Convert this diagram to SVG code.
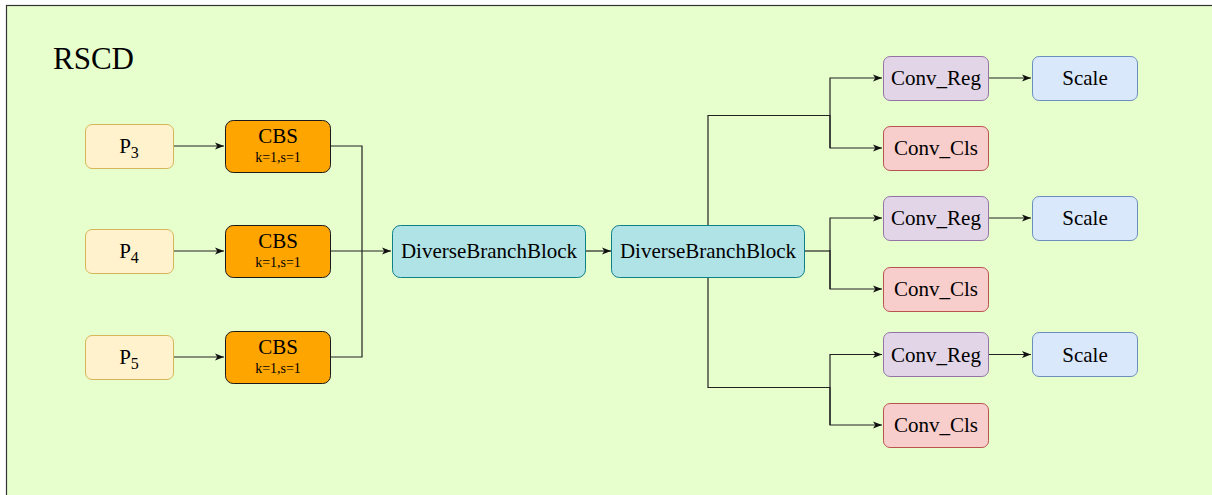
<svg xmlns="http://www.w3.org/2000/svg" width="1212" height="495" viewBox="0 0 1212 495">
<defs>
<style>
text{font-family:"Liberation Serif","Times New Roman",serif;fill:#000;text-anchor:middle}
.t{font-size:21px}
.s{font-size:14px}
.p{fill:#fff2cc;stroke:#d6b656;stroke-width:1}
.c{fill:#ffa500;stroke:#1a1a1a;stroke-width:1}
.d{fill:#b0e3e6;stroke:#0e8088;stroke-width:1}
.r{fill:#e1d5e7;stroke:#9673a6;stroke-width:1}
.k{fill:#f8cecc;stroke:#b85450;stroke-width:1}
.e{fill:#dae8fc;stroke:#6c8ebf;stroke-width:1}
.l{fill:none;stroke:#222;stroke-width:1.2}
</style>
<marker id="a" viewBox="0 0 10 10" refX="10" refY="5" markerWidth="9" markerHeight="9" markerUnits="userSpaceOnUse" orient="auto">
<path d="M0,1 L10,5 L0,9 L2.5,5 Z" fill="#111"/>
</marker>
</defs>
<rect x="6.5" y="5.5" width="1220" height="500" fill="#e6ffcc" stroke="#333" stroke-width="1.2"/>
<text x="93.5" y="69" style="font-size:31px">RSCD</text>
<g id="connectors">
<path class="l" d="M173,146 H224" marker-end="url(#a)"/>
<path class="l" d="M173,251 H224" marker-end="url(#a)"/>
<path class="l" d="M173,357 H224" marker-end="url(#a)"/>
<path class="l" d="M331,146 H362 V357 H331"/>
<path class="l" d="M331,251 H391" marker-end="url(#a)"/>
<path class="l" d="M585,251 H611" marker-end="url(#a)"/>
<path class="l" d="M708,225 V115.5 H830"/>
<path class="l" d="M830,148 V78 H882" marker-end="url(#a)"/>
<path class="l" d="M830,115 V148 H882" marker-end="url(#a)"/>
<path class="l" d="M804,251 H830"/>
<path class="l" d="M830,289 V218 H882" marker-end="url(#a)"/>
<path class="l" d="M830,250 V289 H882" marker-end="url(#a)"/>
<path class="l" d="M708,278 V387.5 H830"/>
<path class="l" d="M830,425 V354.5 H882" marker-end="url(#a)"/>
<path class="l" d="M830,387 V425 H882" marker-end="url(#a)"/>
<path class="l" d="M988,78 H1031" marker-end="url(#a)"/>
<path class="l" d="M988,218 H1031" marker-end="url(#a)"/>
<path class="l" d="M988,354.5 H1031" marker-end="url(#a)"/>
</g>
<g id="p3"><rect class="p" x="85.5" y="124.5" width="88" height="44" rx="6.6"/><text class="t" x="129" y="153">P<tspan style="font-size:16px" dy="5">3</tspan></text></g>
<g id="p4"><rect class="p" x="85.5" y="229.5" width="88" height="44" rx="6.6"/><text class="t" x="129" y="258">P<tspan style="font-size:16px" dy="5">4</tspan></text></g>
<g id="p5"><rect class="p" x="85.5" y="335.5" width="88" height="44" rx="6.6"/><text class="t" x="129" y="364">P<tspan style="font-size:16px" dy="5">5</tspan></text></g>
<g id="cbs1"><rect class="c" x="225.5" y="120.5" width="105" height="52" rx="7.8"/><text class="t" x="278" y="143">CBS</text><text class="s" x="278" y="162">k=1,s=1</text></g>
<g id="cbs2"><rect class="c" x="225.5" y="225.5" width="105" height="52" rx="7.8"/><text class="t" x="278" y="248">CBS</text><text class="s" x="278" y="267">k=1,s=1</text></g>
<g id="cbs3"><rect class="c" x="225.5" y="331.5" width="105" height="52" rx="7.8"/><text class="t" x="278" y="354">CBS</text><text class="s" x="278" y="373">k=1,s=1</text></g>
<g id="dbb1"><rect class="d" x="392.5" y="225.5" width="193" height="52" rx="7.8"/><text class="t" x="489" y="258">DiverseBranchBlock</text></g>
<g id="dbb2"><rect class="d" x="611.5" y="225.5" width="193" height="52" rx="7.8"/><text class="t" x="708" y="258">DiverseBranchBlock</text></g>
<g id="reg1"><rect class="r" x="883.5" y="56.5" width="105" height="44" rx="6.6"/><text class="t" x="936" y="85">Conv_Reg</text></g>
<g id="cls1"><rect class="k" x="883.5" y="126.5" width="105" height="44" rx="6.6"/><text class="t" x="936" y="155">Conv_Cls</text></g>
<g id="scale1"><rect class="e" x="1032.5" y="56.5" width="105" height="44" rx="6.6"/><text class="t" x="1085" y="85">Scale</text></g>
<g id="reg2"><rect class="r" x="883.5" y="196.5" width="105" height="44" rx="6.6"/><text class="t" x="936" y="225">Conv_Reg</text></g>
<g id="cls2"><rect class="k" x="883.5" y="267.5" width="105" height="44" rx="6.6"/><text class="t" x="936" y="296">Conv_Cls</text></g>
<g id="scale2"><rect class="e" x="1032.5" y="196.5" width="105" height="44" rx="6.6"/><text class="t" x="1085" y="225">Scale</text></g>
<g id="reg3"><rect class="r" x="883.5" y="332.5" width="105" height="44" rx="6.6"/><text class="t" x="936" y="361.5">Conv_Reg</text></g>
<g id="cls3"><rect class="k" x="883.5" y="403.5" width="105" height="44" rx="6.6"/><text class="t" x="936" y="432">Conv_Cls</text></g>
<g id="scale3"><rect class="e" x="1032.5" y="332.5" width="105" height="44" rx="6.6"/><text class="t" x="1085" y="361.5">Scale</text></g>
</svg>
